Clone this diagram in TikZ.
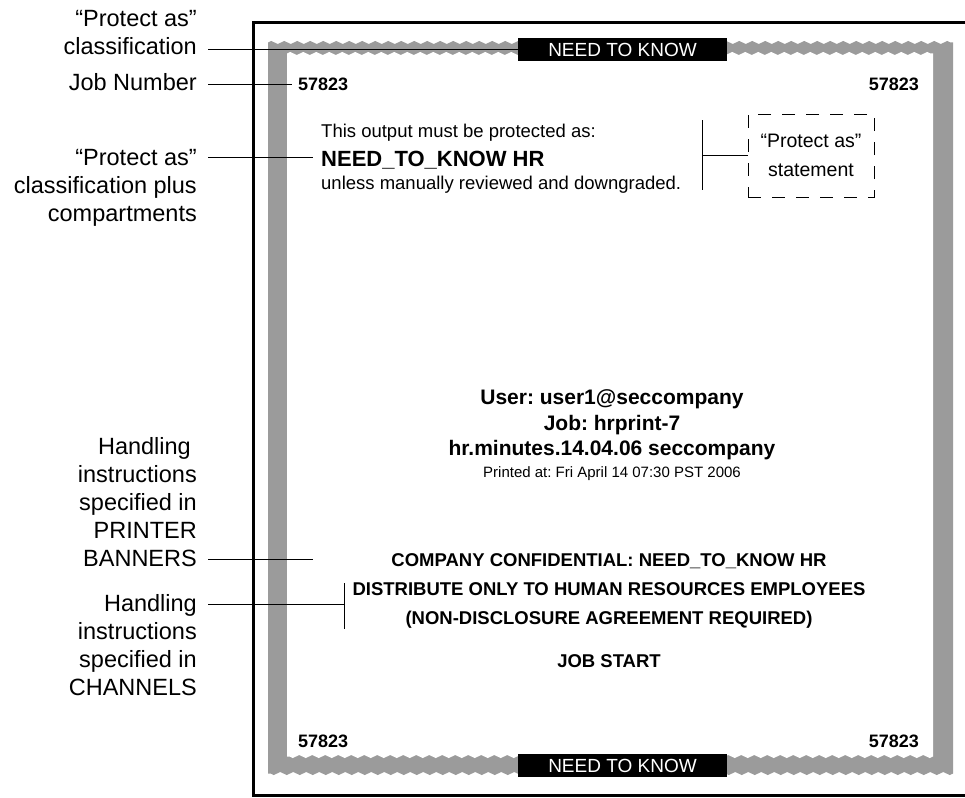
\documentclass[tikz,border=0pt]{standalone}
\usepackage{fontspec}
\setmainfont{Liberation Sans}
\usepackage{tikz}
\usetikzlibrary{decorations.pathmorphing}
\definecolor{sheetgray}{RGB}{155,155,155}
\frenchspacing
\tikzstyle{callout}=[anchor=base east,align=right,inner sep=0pt,font=\fontsize{23.5}{28}\selectfont]
\tikzstyle{leader}=[line width=1pt]
\tikzstyle{jobnum}=[inner sep=0pt,font=\fontsize{18}{22}\selectfont\bfseries]
\tikzstyle{banner}=[fill=black,text=white,minimum width=209pt,minimum height=23pt,inner sep=0pt,font=\fontsize{19}{22}\selectfont]
\tikzstyle{notice}=[anchor=base west,inner sep=0pt,font=\fontsize{18.5}{22}\selectfont]
\tikzstyle{header}=[anchor=base,inner sep=0pt,font=\fontsize{21}{25}\selectfont\bfseries]
\tikzstyle{handling}=[anchor=base,inner sep=0pt,font=\fontsize{18.5}{22}\selectfont\bfseries]
\tikzstyle{zz}=[decoration={zigzag,segment length=13pt,amplitude=1.5pt}]

\begin{document}
\begin{tikzpicture}[x=1pt,y=-1pt]
    \useasboundingbox (0,0) rectangle (965,797);
    % paper sheet
    \fill[sheetgray] (268,773.5) -- (268,42.5) decorate[zz]{-- (953,42.5)} -- (953,773.5) decorate[zz]{-- (268,773.5)} -- cycle;
    \fill[white] (287,756.5) -- (287,53.5) decorate[zz]{-- (933,53.5)} -- (933,756.5) decorate[zz]{-- (287,756.5)} -- cycle;
    \draw[line width=3pt] (965,23) -- (253,23) -- (253,795) -- (965,795);

    \node[jobnum,anchor=base west] (numTL) at (298,90.5) {57823};
    \node[jobnum,anchor=base east] (numTR) at (919,90.5) {57823};
    \node[jobnum,anchor=base west] (numBL) at (298,747.5) {57823};
    \node[jobnum,anchor=base east] (numBR) at (919,747.5) {57823};

    \node[notice] (protHead) at (321,137.5) {This output must be protected as:};
    \node[notice,font=\fontsize{22}{26}\selectfont\bfseries] (protName) at (321,166) {NEED\_TO\_KNOW HR};
    \node[notice] (protTail) at (321,189.5) {unless manually reviewed and downgraded.};
    \node[draw,dash pattern=on 13pt off 11pt,line width=1pt,minimum width=126pt,minimum height=83pt,
        align=center,font=\fontsize{19.5}{29}\selectfont] (stmtBox) at (811,155.5) {“Protect as”\\statement};

    \node[header] (user) at (612,404.5) {User: user1@seccompany};
    \node[header] (job) at (612,430.5) {Job: hrprint-7};
    \node[header] (file) at (612,455.5) {hr.minutes.14.04.06 seccompany};
    \node[header,font=\fontsize{15}{18}\selectfont] (printed) at (612,477.5) {Printed at: Fri April 14 07:30 PST 2006};

    \node[handling] (bannerCo) at (609,566.5) {COMPANY CONFIDENTIAL: NEED\_TO\_KNOW HR};
    \node[handling] (chanDist) at (609,595.5) {DISTRIBUTE ONLY TO HUMAN RESOURCES EMPLOYEES};
    \node[handling] (chanNda) at (609,624.5) {(NON-DISCLOSURE AGREEMENT REQUIRED)};
    \node[handling] (jobStart) at (609,667.5) {JOB START};

    \node[callout] (lblClass) at (197,55) {“Protect as”\\classification};
    \node[callout] (lblJob) at (197,91) {Job Number};
    \node[callout] (lblComp) at (197,221) {“Protect as”\\classification plus\\compartments};
    \node[callout] (lblBanner) at (197,566) {Handling\hspace*{6pt}\\instructions\\specified in\\PRINTER\\BANNERS};
    \node[callout] (lblChan) at (197,695) {Handling\\instructions\\specified in\\CHANNELS};

    \coordinate (stmtTop) at (702,120);
    \coordinate (stmtBot) at (702,190);
    \coordinate (bannerEnd) at (313,559);
    \coordinate (chanTop) at (344,583);
    \coordinate (chanMid) at (344,604);
    \coordinate (chanBot) at (344,629);

    \draw[leader] (lblClass.east |- 0,49.5) ++(11,0) -- (518,49.5);
    \draw[leader] (lblJob.east |- numTL.west) ++(11,0) -- ([xshift=-6pt]numTL.west);
    \draw[leader] (lblComp.east |- 0,157) ++(11,0) -- ([xshift=-8pt]protName.west |- 0,157);
    \draw[leader] (lblBanner.east |- bannerEnd) ++(11,0) -- (bannerEnd);
    \draw[leader] (chanTop) -- (chanBot);
    \draw[leader] (lblChan.east |- chanMid) ++(11,0) -- (chanMid);
    \draw[leader] (stmtTop) -- (stmtBot);
    \draw[leader] (stmtTop |- stmtBox.west) -- (stmtBox.west);

    \node[banner] (boxTop) at (622.5,49.5) {NEED TO KNOW};
    \node[banner] (boxBot) at (622.5,765.5) {NEED TO KNOW};
\end{tikzpicture}
\end{document}
